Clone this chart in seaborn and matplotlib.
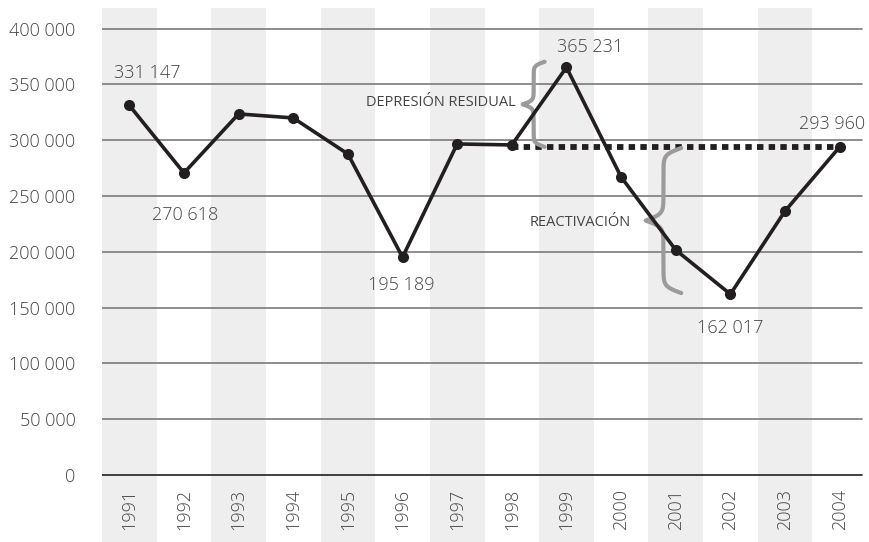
import numpy as np
import pandas as pd
import matplotlib.pyplot as plt
import seaborn as sns

# data
years = [1991, 1992, 1993, 1994, 1995, 1996, 1997, 1998, 1999, 2000, 2001, 2002, 2003, 2004]
values = [331147, 270618, 323500, 319900, 287600, 195189, 296600, 295700, 365231, 267000, 201600, 162017, 236500, 293960]
yticks = [0, 50000, 100000, 150000, 200000, 250000, 300000, 350000, 400000]
# (year, offset in pixels) for the labelled points
labelled = {1991: (18, 32), 1992: (1, -42), 1996: (-1, -28),
            1999: (24, 20), 2002: (0, -34), 2004: (-8, 23)}

sns.set_style("white")
plt.rcParams['font.family'] = ['Open Sans', 'DejaVu Sans']

def fmt(v):
    return f"{v:,}".replace(",", " ")

df = pd.DataFrame({"year": years, "value": values})
df["i"] = np.arange(len(df))

fig = plt.figure(figsize=(8.69, 5.42), dpi=100)
ax = fig.add_axes([102 / 869, 0, 765 / 869, 534 / 542])
ax.set_xlim(-0.5, len(years) - 0.5)
ax.set_ylim(-60000, 418400)

# alternating bands
for i in range(0, len(years), 2):
    ax.axvspan(i - 0.5, i + 0.5, color="#eeeeee", lw=0, zorder=0)

# grid lines
for t in yticks:
    ax.axhline(t, xmax=0.993, color="#231f20" if t == 0 else "#7a7a7a", lw=1.2, zorder=1)

# dotted reference line from 1998 to 2004
ref = values[-1]
i98 = years.index(1998)
ax.plot([i98, len(years) - 1], [ref, ref], color="#231f20", lw=4.2,
        linestyle=(0, (1.1, 0.9)), dash_capstyle="butt", zorder=2)

sns.lineplot(data=df, x="i", y="value", ax=ax, color="#231f20", lw=2.6,
             marker="o", markersize=8, markeredgewidth=0, zorder=3)

for yr, (dx, dy) in labelled.items():
    i = years.index(yr)
    ax.annotate(fmt(values[i]), (i, values[i]), xytext=(dx, dy),
                textcoords="offset pixels", ha="center", va="center",
                fontsize=13, color="#444444", fontweight="light")

# year labels
for i, yr in enumerate(years):
    ax.text(i, -31000, str(yr), rotation=90, ha="center", va="center",
            fontsize=13, color="#444444", fontweight="light")


def brace(x_tip, width, y0, y1, color="#9b9b9b", lw=3):
    t = np.linspace(0, 0.5, 200)
    beta = 45
    half = 1 / (1 + np.exp(-beta * (t - t[0]))) + 1 / (1 + np.exp(-beta * (t - t[-1])))
    xs = np.concatenate((half, half[-2::-1]))
    ys = np.linspace(y0, y1, len(xs))
    xs = x_tip + width - width * (xs - 0.5)
    ax.plot(xs, ys, color=color, lw=lw, solid_capstyle="round", zorder=2)


peak = max(values)
low = min(values)
brace(7.2, 0.4, ref, peak + 5000)
ax.text(7.08, (ref + peak) / 2 + 4000, "DEPRESIÓN RESIDUAL", ha="right", va="center",
        fontsize=10.5, color="#444444")
brace(9.45, 0.65, low + 1000, ref - 1000)
ax.text(9.17, (ref + low) / 2 - 1500, "REACTIVACIÓN", ha="right", va="center",
        fontsize=10.5, color="#444444")

ax.set_yticks(yticks)
ax.set_yticklabels([fmt(t) for t in yticks], fontsize=13, color="#444444", fontweight="light")
ax.tick_params(axis="y", length=0, pad=19)
ax.set_xticks([])
ax.set_xlabel("")
ax.set_ylabel("")
for s in ax.spines.values():
    s.set_visible(False)

fig.savefig("out.png", dpi=100)
